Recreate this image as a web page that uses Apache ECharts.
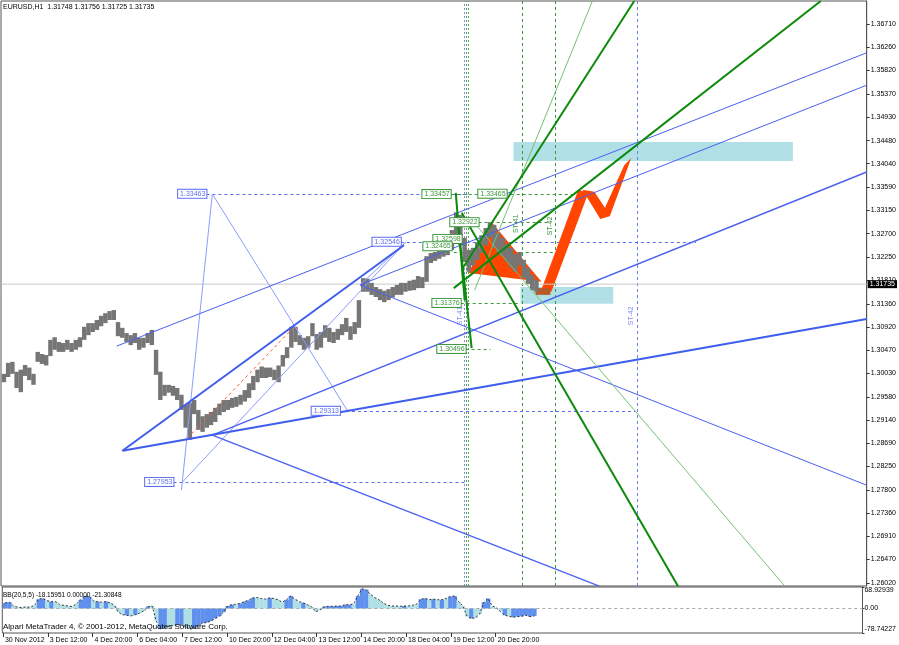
<!DOCTYPE html>
<html><head><meta charset="utf-8">
<script src="https://cdn.jsdelivr.net/npm/echarts@6/dist/echarts.min.js"></script>
<style>html,body{margin:0;padding:0;background:#fff;}#c{width:899px;height:645px;}</style>
</head><body><div id="c"></div>
<script>
// ---------- axis ticks ----------
const priceTicks = [1.26020,1.26470,1.26910,1.27360,1.27800,1.28250,1.28690,1.29140,1.29580,1.30030,1.30470,1.30920,1.31360,1.31810,1.32250,1.32700,1.33150,1.33590,1.34040,1.34480,1.34930,1.35370,1.35820,1.36260,1.36710];
const timeTickHours = [0,32,64,96,128,160,192,224,256,288,320,352];
const timeLabels = ["30 Nov 2012","3 Dec 12:00","4 Dec 20:00","6 Dec 04:00","7 Dec 12:00","10 Dec 20:00","12 Dec 04:00","13 Dec 12:00","14 Dec 20:00","18 Dec 04:00","19 Dec 12:00","20 Dec 20:00"];
const bbTicks = [68.92939, 0, -78.74227];
const currentPrice = 1.31735;

// ---------- EURUSD 3-hour bars (high / low) ----------
const barHigh = [1.3002,1.3023,1.3025,1.3006,1.3010,1.3019,1.3014,1.3002,1.3044,1.3040,
1.3038,1.3067,1.3072,1.3063,1.3061,1.3067,1.3061,1.3067,1.3072,1.3092,
1.3099,1.3099,1.3105,1.3113,1.3118,1.3122,1.3124,1.3101,1.3090,1.3080,
1.3076,1.3080,1.3071,1.3071,1.3080,1.3086,1.3048,1.3006,1.2981,1.2981,
1.2979,1.2975,1.2962,1.2943,1.2947,1.2952,1.2933,1.2921,1.2925,1.2929,
1.2937,1.2945,1.2952,1.2952,1.2956,1.2958,1.2962,1.2971,1.2984,1.2998,
1.3010,1.3016,1.3014,1.3014,1.3010,1.3018,1.3038,1.3053,1.3092,1.3092,
1.3076,1.3071,1.3074,1.3099,1.3078,1.3082,1.3095,1.3090,1.3082,1.3088,
1.3097,1.3109,1.3093,1.3101,1.3143,1.3185,1.3184,1.3176,1.3168,1.3164,
1.3161,1.3164,1.3168,1.3172,1.3176,1.3176,1.3180,1.3182,1.3189,1.3187,
1.3227,1.3233,1.3235,1.3239,1.3243,1.3248,1.3277,1.3311,1.3306,1.3262,
1.3239,1.3243,1.3254,1.3267,1.3281,1.3292,1.3287,1.3271,1.3262,1.3250,
1.3243,1.3231,1.3235,1.3220,1.3205,1.3191,1.3182];
const barLow = [1.2986,1.2996,1.3002,1.2975,1.2967,1.2998,1.2990,1.2981,1.3025,1.3021,
1.3018,1.3036,1.3048,1.3044,1.3044,1.3048,1.3044,1.3048,1.3053,1.3067,
1.3076,1.3082,1.3086,1.3093,1.3099,1.3105,1.3105,1.3074,1.3071,1.3063,
1.3057,1.3061,1.3048,1.3052,1.3061,1.3057,1.3000,1.2952,1.2960,1.2966,
1.2960,1.2952,1.2933,1.2899,1.2876,1.2925,1.2895,1.2891,1.2899,1.2904,
1.2910,1.2923,1.2929,1.2933,1.2937,1.2939,1.2943,1.2949,1.2956,1.2971,
1.2986,1.2994,1.2994,1.2996,1.2990,1.2986,1.3016,1.3032,1.3052,1.3063,
1.3057,1.3048,1.3052,1.3074,1.3048,1.3052,1.3071,1.3063,1.3061,1.3067,
1.3076,1.3082,1.3067,1.3078,1.3090,1.3159,1.3159,1.3153,1.3149,1.3143,
1.3139,1.3143,1.3148,1.3153,1.3153,1.3159,1.3161,1.3162,1.3166,1.3166,
1.3178,1.3214,1.3218,1.3222,1.3226,1.3229,1.3239,1.3267,1.3248,1.3216,
1.3197,1.3209,1.3220,1.3233,1.3248,1.3262,1.3243,1.3235,1.3227,1.3216,
1.3205,1.3197,1.3209,1.3185,1.3174,1.3162,1.3159];
const barHours = 3;

// ---------- BB(20,5,5) histogram ----------
const bbValues = [18,20,8,4,3,5,4,10,30,32,
25,22,22,12,10,8,6,15,28,40,
38,25,22,20,22,18,10,-12,-20,-22,
-24,-20,-15,-8,6,8,-40,-66,-62,-58,
-55,-52,-54,-60,-66,-64,-55,-47,-45,-40,
-32,-25,-12,8,12,14,16,22,26,34,
35,32,30,34,32,28,20,28,40,30,
22,18,12,5,-10,-5,6,7,7,8,
8,12,12,15,40,63,60,45,35,28,
18,10,8,8,7,8,8,10,14,30,
32,28,30,28,28,32,38,40,22,8,
-25,-32,-30,-18,20,32,8,2,-10,-22,
-25,-28,-26,-25,-22,-26,-24];
const bbKind = ("DDLLLLLLDD"+"LDLLLLLLDD"+"DLDLDLLLLD"+"LDLLDLLDDL"+"LDDLLDDDDD"+
"DDDDDLDDDD"+"LLLDLLLDDL"+"LDLLLLDDDD"+"DDDLDDDLLL"+"LLLLLDLLLD"+
"DLDLDLDDLL"+"LDLLDDLLLD"+"LDDDDDD").split("");

// ---------- drawn objects: [hour1, price1, hour2, price2] ----------
const blueLines = [[81.6,1.3055,614,1.3616],[254.3,1.3172,614,1.3554],[254.3,1.3172,614,1.2789]];
const blueMidLines = [[149.5,1.2885,614,1.3388],[149.5,1.2885,424.2,1.2596]];
const blueThickLines = [[85.7,1.2855,285.5,1.3248],[85.7,1.2855,614,1.3107]];
const blueThinLines = [[127.6,1.2780,149.5,1.3346],[149.5,1.3346,245.1,1.2933],[128.3,1.2795,286.9,1.3254],[254.3,1.3172,286.9,1.3254]];
const blueDashLevels = [[145.3,1.33463,331.5,1.33463],[283.3,1.32546,492.9,1.32546],[240.1,1.29313,449.7,1.29313],[121.9,1.27953,330.0,1.27953]];
const redDashLines = [[85.7,1.2855,207.6,1.3095],[131.8,1.2879,207.6,1.3092]];
const greenThickLines = [[326.5,1.3310,480.1,1.2596],[320.9,1.3166,581.4,1.3715],[326.5,1.3201,449.0,1.3715],[323.0,1.3310,333.6,1.3051],[322.3,1.3348,328.6,1.3143]];
const greenThinLines = [[338.5,1.3281,555.9,1.2596],[335.7,1.3162,419.3,1.3715]];
const greenDashLevels = [[318.7,1.33457,407.9,1.33457],[338.5,1.3292,390.2,1.3292],[320.9,1.3235,395.2,1.3235],[325.8,1.31376,368.3,1.31376],[329.3,1.30496,347.0,1.30496]];
const greenDotVerticals = [329.7,331.5];
const greyDotVerticals = [328.0];
const greenDashVerticals = [369.7,393.1];
const blueDashVerticals = [451.1];
const cyanZones = [[363.3,1.34454,561.6,1.34090],[368.3,1.3168,434.1,1.3136]];
const brownZones = [[378.9,1.3166,389.5,1.3153]];
const orangeShapes = [
  [[331.5,1.3195],[347.8,1.3292],[383.2,1.3178]],
  [[383.2,1.3164],[390.2,1.3159],[416.4,1.3348],[409.3,1.3354]],
  [[412.2,1.3354],[420.7,1.3350],[432.0,1.3304],[424.9,1.3298]],
  [[424.9,1.3300],[432.0,1.3306],[446.9,1.3415],[441.9,1.3401]]
];
const blueLabels = [["1.33463",145.3,1.33463],["1.32546",283.3,1.32546],["1.29313",240.1,1.29313],["1.27953",121.9,1.27953]];
const greenLabels = [["1.32922",338.5,1.3292],["1.32598",326.5,1.3260],["1.32465",319.4,1.3246],["1.33457",318.7,1.33457],["1.33465",358.4,1.33465],["1.31376",325.8,1.31376],["1.30496",329.3,1.30496]];
const blueVText = [["ST-41",325.6,1.3113],["ST-42",446.9,1.3113]];
const greenVText = [["ST-41",364.8,1.3289],["ST-42",389.5,1.3285]];

// ---------- chart ----------
const FONT = 'Liberation Sans';
const PMIN = 1.25963, PMAX = 1.37150, HMIN = -0.5, HMAX = 614;
const chart = echarts.init(document.getElementById('c'), null, {renderer:'canvas'});

function segSeries(arr, style, z){
  return {type:'lines', coordinateSystem:'cartesian2d', xAxisIndex:0, yAxisIndex:0, silent:true, z:z||3,
    data: arr.map(s=>({coords:[[s[0],s[1]],[s[2],s[3]]]})), lineStyle:Object.assign({opacity:1, curveness:0}, style)};
}
function vertSeries(hours, style){
  return segSeries(hours.map(h=>[h,PMIN,h,PMAX]), style, 2);
}
function zoneSeries(arr, color, z){
  return {type:'custom', xAxisIndex:0, yAxisIndex:0, silent:true, z:z,
    data: arr.map(r=>[r[0],r[1],r[2],r[3]]),
    encode:{x:[0,2], y:[1,3]},
    renderItem(params, api){
      const a = api.coord([api.value(0), api.value(1)]);
      const b = api.coord([api.value(2), api.value(3)]);
      return {type:'rect', shape:{x:Math.min(a[0],b[0]), y:Math.min(a[1],b[1]), width:Math.abs(b[0]-a[0]), height:Math.abs(b[1]-a[1])}, style:{fill:color}};
    }};
}
function labelSeries(arr, color){
  return {type:'custom', xAxisIndex:0, yAxisIndex:0, silent:true, z:6,
    data: arr.map(l=>[l[1],l[2]]), encode:{x:0,y:1},
    renderItem(params, api){
      const p = api.coord([api.value(0), api.value(1)]);
      return {type:'text', x:p[0], y:p[1], style:{text:arr[params.dataIndex][0], fill:color, font:'7px '+FONT,
        align:'right', verticalAlign:'middle', backgroundColor:'#fff', borderColor:color, borderWidth:1, padding:[1,1,0,2]}};
    }};
}
function vtextSeries(arr, color){
  return {type:'custom', xAxisIndex:0, yAxisIndex:0, silent:true, z:6,
    data: arr.map(l=>[l[1],l[2]]), encode:{x:0,y:1},
    renderItem(params, api){
      const p = api.coord([api.value(0), api.value(1)]);
      return {type:'text', x:p[0], y:p[1], rotation:Math.PI/2, style:{text:arr[params.dataIndex][0], fill:color, font:'7px '+FONT, align:'center', verticalAlign:'middle'}};
    }};
}

const barData = barHigh.map((h,i)=>[i*barHours+barHours/2, barLow[i], h]);
const bbData = bbValues.map((v,i)=>[i*barHours+barHours/2, v]);

const option = {
  animation:false,
  textStyle:{fontFamily:FONT},
  title:[
    {text:'EURUSD,H1  1.31748 1.31756 1.31725 1.31735', left:3, top:4, padding:0, textStyle:{fontSize:7, fontWeight:'normal', color:'#000', fontFamily:FONT}},
    {text:'BB(20,5,5) -18.15951 0.00000 -21.30848', left:3, top:592, padding:0, textStyle:{fontSize:6.5, fontWeight:'normal', color:'#000', fontFamily:FONT}},
    {text:'Alpari MetaTrader 4, © 2001-2012, MetaQuotes Software Corp.', left:3, top:623, padding:0, textStyle:{fontSize:8, fontWeight:'normal', color:'#000', fontFamily:FONT}}
  ],
  grid:[
    {left:1, top:1, width:868, height:585, show:true, borderColor:'#555', borderWidth:1, backgroundColor:'#fff'},
    {left:1, top:587, width:868, height:46, show:true, borderColor:'#555', borderWidth:1, backgroundColor:'#fff'}
  ],
  xAxis:[
    {type:'value', gridIndex:0, min:HMIN, max:HMAX, show:false, axisLine:{onZero:false}},
    {type:'value', gridIndex:1, min:HMIN, max:HMAX, position:'bottom', splitLine:{show:false},
     axisLine:{show:false, onZero:false},
     axisTick:{show:true, customValues:timeTickHours, length:4, lineStyle:{color:'#333'}},
     axisLabel:{customValues:timeTickHours, align:'left', margin:4, fontSize:7, color:'#000', fontFamily:FONT,
       formatter:v=>{const k=timeTickHours.indexOf(v); return k>=0?' '+timeLabels[k]:'';}}}
  ],
  yAxis:[
    {type:'value', gridIndex:0, position:'right', min:PMIN, max:PMAX, splitLine:{show:false},
     axisLine:{show:true, onZero:false, lineStyle:{color:'#555'}},
     axisTick:{show:true, customValues:priceTicks, length:3, inside:false, lineStyle:{color:'#333'}},
     axisLabel:{customValues:priceTicks, margin:4, fontSize:7, color:'#000', fontFamily:FONT, formatter:v=>v.toFixed(5)}},
    {type:'value', gridIndex:1, position:'right', min:bbTicks[2], max:bbTicks[0], splitLine:{show:false},
     axisLine:{show:true, onZero:false, lineStyle:{color:'#555'}},
     axisTick:{show:true, customValues:bbTicks, length:2, lineStyle:{color:'#333'}},
     axisLabel:{customValues:bbTicks, margin:2, fontSize:7, color:'#000', fontFamily:FONT,
       formatter:v=> v>1 ? '{t|'+v.toFixed(5)+'}' : (v<-1 ? '{b|'+v.toFixed(5)+'}' : '{m|0.00}'),
       rich:{t:{fontSize:7, padding:[7,0,0,0]}, b:{fontSize:7, padding:[0,0,7,0]}, m:{fontSize:7}}}}
  ],
  series:[
    zoneSeries(cyanZones, '#b0e0e6', 1),
    vertSeries(greyDotVerticals, {color:'#8093c8', width:1, type:[2,2]}),
    vertSeries(greenDotVerticals, {color:'#5aa55a', width:1, type:[2,2]}),
    vertSeries(greenDashVerticals, {color:'#3c963c', width:1, type:[3,3]}),
    vertSeries(blueDashVerticals, {color:'#6a7fe8', width:1, type:[3,3]}),
    {type:'line', xAxisIndex:0, yAxisIndex:0, data:[[HMIN,currentPrice],[HMAX,currentPrice]], symbol:'none', silent:true, z:2,
     lineStyle:{color:'#c8c8c8', width:1},
     endLabel:{show:true, formatter:currentPrice.toFixed(5), color:'#fff', backgroundColor:'#000', fontSize:7, fontFamily:FONT, padding:[1,2,0,2], distance:1}},
    segSeries(blueDashLevels, {color:'#5a6ef0', width:1, type:[3,3]}, 2),
    segSeries(greenDashLevels, {color:'#3c963c', width:1, type:[3,3]}, 2),
    {type:'custom', xAxisIndex:0, yAxisIndex:0, silent:true, z:2, data:orangeShapes.map(s=>[s[0][0], s[0][1]]), encode:{x:0,y:1},
     renderItem(params, api){
       const pts = orangeShapes[params.dataIndex].map(p=>api.coord(p));
       return {type:'polygon', shape:{points:pts}, style:{fill:'#ff4500'}};
     }},
    zoneSeries(brownZones, '#b85a28', 2),
    {type:'custom', xAxisIndex:0, yAxisIndex:0, silent:true, z:3, data:barData, encode:{x:0, y:[1,2]},
     renderItem(params, api){
       const h = api.value(0);
       const a = api.coord([h, api.value(1)]), b = api.coord([h, api.value(2)]);
       const w = api.size([barHours, 0])[0];
       return {type:'rect', shape:{x:a[0]-w/2, y:b[1], width:w+0.2, height:a[1]-b[1]}, style:{fill:'#767676'}};
     }},
    segSeries(redDashLines, {color:'#ff5a3c', width:1, type:[3,3]}, 4),
    segSeries(blueThinLines, {color:'#8a9cff', width:1}, 4),
    segSeries(blueLines, {color:'#4b5ff2', width:1}, 4),
    segSeries(blueMidLines, {color:'#4b62f0', width:1.4}, 4),
    segSeries(blueThickLines, {color:'#3f5eee', width:2}, 4),
    segSeries(greenThinLines, {color:'#74c074', width:1}, 5),
    segSeries(greenThickLines, {color:'#0b8a0b', width:2}, 5),
    labelSeries(blueLabels, '#5a6ef0'),
    labelSeries(greenLabels, '#3c963c'),
    vtextSeries(blueVText, '#7a8cf0'),
    vtextSeries(greenVText, '#3c963c'),
    // indicator
    {type:'custom', xAxisIndex:1, yAxisIndex:1, silent:true, z:3, data:bbData, encode:{x:0,y:1},
     renderItem(params, api){
       const h = api.value(0), v = api.value(1);
       const a = api.coord([h, v]), b = api.coord([h, 0]);
       const w = api.size([barHours, 0])[0];
       return {type:'rect', shape:{x:a[0]-w/2, y:Math.min(a[1],b[1]), width:w+0.3, height:Math.abs(b[1]-a[1])},
         style:{fill: bbKind[params.dataIndex]==='D' ? '#6090ee' : '#b0e0e6'}};
     }},
    {type:'line', xAxisIndex:1, yAxisIndex:1, data:bbData, symbol:'none', silent:true, z:4,
     lineStyle:{color:'#333', width:1, type:[2,2]},
     markLine:{silent:true, symbol:'none', label:{show:false}, lineStyle:{color:'#aaa', type:[3,3], width:1}, data:[{yAxis:0}]}}
  ]
};
chart.setOption(option);
</script>
</body></html>
